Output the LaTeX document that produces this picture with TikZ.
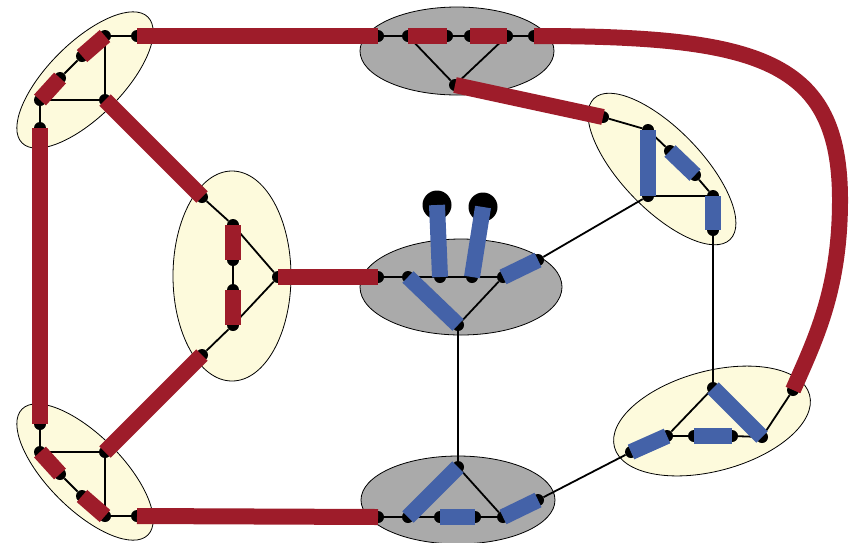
\documentclass[tikz,border=0pt]{standalone}
\usetikzlibrary{shapes.geometric}
\definecolor{barred}{RGB}{158,28,42}
\definecolor{barblue}{RGB}{68,98,168}
\definecolor{paleyellow}{RGB}{253,250,220}
\definecolor{hubgray}{RGB}{170,170,170}

\begin{document}
\begin{tikzpicture}[
    x=1pt, y=-1pt,
    vtx/.style={circle, fill=black, inner sep=0pt, minimum size=12pt},
    ball/.style={circle, fill=black, inner sep=0pt, minimum size=29pt},
    gadget/.style={ellipse, draw, line width=0.8pt, fill=paleyellow, inner sep=0pt},
    hub/.style={ellipse, draw, line width=0.8pt, fill=hubgray, inner sep=0pt},
    wire/.style={line width=1.8pt},
    redbar/.style={draw=barred, line width=16pt, line cap=butt},
    bluebar/.style={draw=barblue, line width=16pt, line cap=butt}
]
    \useasboundingbox (0,0) rectangle (850,542);

    % Clusters
    \node[gadget, minimum width=178pt, minimum height=74pt, rotate=45] (ga) at (85,80) {};
    \node[gadget, minimum width=178pt, minimum height=74pt, rotate=-45] (gb) at (85,472) {};
    \node[gadget, minimum width=118pt, minimum height=210pt] (gc) at (232,276) {};
    \node[gadget, minimum width=196pt, minimum height=80pt, rotate=-46] (gr) at (662,169) {};
    \node[gadget, minimum width=202pt, minimum height=100pt, rotate=15] (gs) at (712,421) {};
    \node[hub, minimum width=194pt, minimum height=88pt] (gt) at (457,51) {};
    \node[hub, minimum width=202pt, minimum height=96pt] (gm) at (461,287) {};
    \node[hub, minimum width=194pt, minimum height=88pt] (gn) at (458,500) {};

    % Top left
    \node[vtx] (a1) at (105,36) {};
    \node[vtx] (a2) at (82,56) {};
    \node[vtx] (a3) at (60,78) {};
    \node[vtx] (a4) at (40,100) {};
    \node[vtx] (a5) at (105,100) {};
    \node[vtx] (a6) at (137,36) {};
    \node[vtx] (a7) at (40,128) {};

    % Bottom left
    \node[vtx] (b1) at (105,516) {};
    \node[vtx] (b2) at (82,496) {};
    \node[vtx] (b3) at (60,474) {};
    \node[vtx] (b4) at (40,452) {};
    \node[vtx] (b5) at (105,452) {};
    \node[vtx] (b6) at (137,516) {};
    \node[vtx] (b7) at (40,424) {};

    % Middle left
    \node[vtx] (c1) at (202,197) {};
    \node[vtx] (c2) at (233,225) {};
    \node[vtx] (c3) at (233,260) {};
    \node[vtx] (c4) at (233,290) {};
    \node[vtx] (c5) at (233,325) {};
    \node[vtx] (c6) at (202,355) {};
    \node[vtx] (c7) at (278,277) {};

    % Top hub
    \node[vtx] (t1) at (378,36) {};
    \node[vtx] (t2) at (408,36) {};
    \node[vtx] (t3) at (447,36) {};
    \node[vtx] (t4) at (470,36) {};
    \node[vtx] (t5) at (507,36) {};
    \node[vtx] (t6) at (534,36) {};
    \node[vtx] (t7) at (455,85) {};

    % Middle hub
    \node[vtx] (m1) at (378,277) {};
    \node[vtx] (m2) at (408,277) {};
    \node[vtx] (m3) at (440,277) {};
    \node[vtx] (m4) at (472,277) {};
    \node[vtx] (m5) at (503,277) {};
    \node[vtx] (m6) at (538,260) {};
    \node[vtx] (m7) at (458,325) {};
    \node[ball] (p1) at (437,205) {};
    \node[ball] (p2) at (483,207) {};

    % Bottom hub
    \node[vtx] (n1) at (378,517) {};
    \node[vtx] (n2) at (408,517) {};
    \node[vtx] (n3) at (440,517) {};
    \node[vtx] (n4) at (475,517) {};
    \node[vtx] (n5) at (503,517) {};
    \node[vtx] (n6) at (538,500) {};
    \node[vtx] (n7) at (458,467) {};

    % Top right
    \node[vtx] (r1) at (603,117) {};
    \node[vtx] (r2) at (648,130) {};
    \node[vtx] (r3) at (670,151) {};
    \node[vtx] (r4) at (695,175) {};
    \node[vtx] (r5) at (713,196) {};
    \node[vtx] (r6) at (648,196) {};
    \node[vtx] (r7) at (713,230) {};

    % Bottom right
    \node[vtx] (s1) at (713,388) {};
    \node[vtx] (s2) at (762,437) {};
    \node[vtx] (s3) at (793,390) {};
    \node[vtx] (s4) at (667,436) {};
    \node[vtx] (s5) at (631,452) {};
    \node[vtx] (s6) at (694,436) {};
    \node[vtx] (s7) at (732,436) {};

    % Thin edges
    \draw[wire] (a2) -- (a3);
    \draw[wire] (a4) -- (a5) -- (a1) -- (a6);
    \draw[wire] (a4) -- (a7);
    \draw[wire] (b2) -- (b3);
    \draw[wire] (b4) -- (b5) -- (b1) -- (b6);
    \draw[wire] (b4) -- (b7);
    \draw[wire] (c1) -- (c2) -- (c7) -- (c5) -- (c6);
    \draw[wire] (c3) -- (c4);
    \draw[wire] (t1) -- (t2) -- (t7) -- (t5) -- (t6);
    \draw[wire] (t3) -- (t4);
    \draw[wire] (m1) -- (m2) -- (m3) -- (m4) -- (m5) -- (m7);
    \draw[wire] (m7) -- (n7);
    \draw[wire] (m6) -- (r6);
    \draw[wire] (n1) -- (n2) -- (n3);
    \draw[wire] (n4) -- (n5) -- (n7);
    \draw[wire] (n6) -- (s5);
    \draw[wire] (r1) -- (r2) -- (r3);
    \draw[wire] (r4) -- (r5) -- (r6);
    \draw[wire] (r7) -- (s1);
    \draw[wire] (s5) -- (s4) -- (s1);
    \draw[wire] (s4) -- (s6);
    \draw[wire] (s7) -- (s2) -- (s3);

    % Red bars
    \draw[redbar] (a1.center) -- (a2.center);
    \draw[redbar] (a3.center) -- (a4.center);
    \draw[redbar] (b1.center) -- (b2.center);
    \draw[redbar] (b3.center) -- (b4.center);
    \draw[redbar] (a7.center) -- (b7.center);
    \draw[redbar] (a5.center) -- (c1.center);
    \draw[redbar] (b5.center) -- (c6.center);
    \draw[redbar] (c2.center) -- (c3.center);
    \draw[redbar] (c4.center) -- (c5.center);
    \draw[redbar] (c7.center) -- (m1.center);
    \draw[redbar] (a6.center) -- (t1.center);
    \draw[redbar] (b6.center) -- (n1.center);
    \draw[redbar] (t2.center) -- (t3.center);
    \draw[redbar] (t4.center) -- (t5.center);
    \draw[redbar] (t7.center) -- (r1.center);
    \draw[redbar] (t6.center) .. controls (760,36) and (840,60) .. (840,200)
        .. controls (840,290) and (815,340) .. (s3.center);

    % Blue bars
    \draw[bluebar] (m2.center) -- (m7.center);
    \draw[bluebar] (m5.center) -- (m6.center);
    \draw[bluebar] (m3.center) -- (p1.center);
    \draw[bluebar] (m4.center) -- (p2.center);
    \draw[bluebar] (n2.center) -- (n7.center);
    \draw[bluebar] (n3.center) -- (n4.center);
    \draw[bluebar] (n5.center) -- (n6.center);
    \draw[bluebar] (r2.center) -- (r6.center);
    \draw[bluebar] (r3.center) -- (r4.center);
    \draw[bluebar] (r5.center) -- (r7.center);
    \draw[bluebar] (s1.center) -- (s2.center);
    \draw[bluebar] (s4.center) -- (s5.center);
    \draw[bluebar] (s6.center) -- (s7.center);
\end{tikzpicture}
\end{document}
